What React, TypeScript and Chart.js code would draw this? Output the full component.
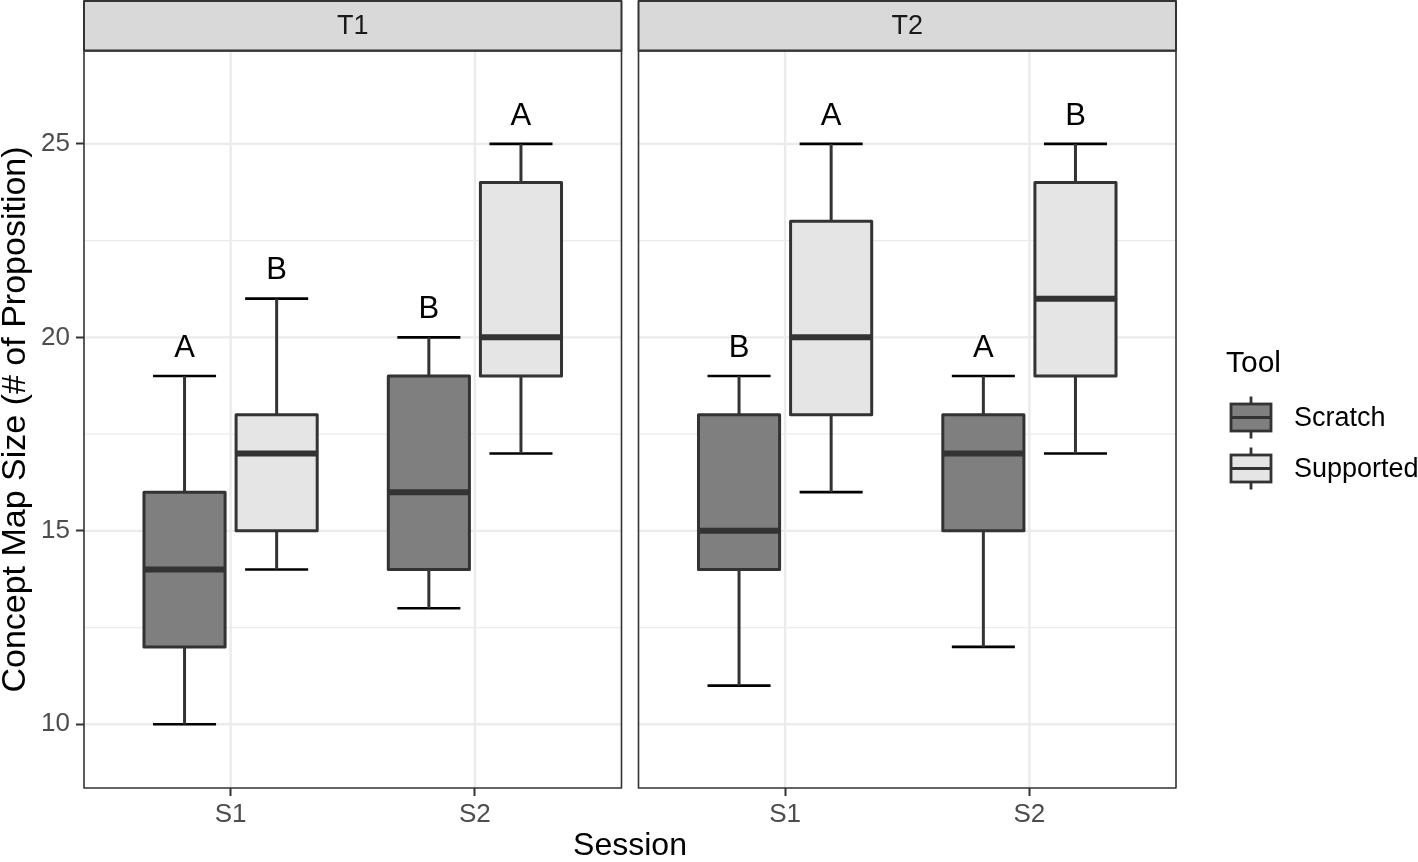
import React, { useEffect, useRef } from 'react';
import { Chart, registerables } from 'chart.js';

Chart.register(...registerables);

// ---------- data ----------
const facets = ['T1', 'T2'];
const sessions = ['S1', 'S2'];
const tools = ['Scratch', 'Supported'];

// order of values: T1-S1, T1-S2, T2-S1, T2-S2
const scratchLow = [10, 13, 11, 12];
const scratchQ1 = [12, 14, 14, 15];
const scratchMedian = [14, 16, 15, 17];
const scratchQ3 = [16, 19, 18, 18];
const scratchHigh = [19, 20, 19, 19];
const scratchLetters = ['A', 'B', 'B', 'A'];

const supportedLow = [14, 17, 16, 17];
const supportedQ1 = [15, 19, 18, 19];
const supportedMedian = [17, 20, 20, 21];
const supportedQ3 = [18, 24, 23, 24];
const supportedHigh = [21, 25, 25, 25];
const supportedLetters = ['B', 'A', 'A', 'B'];

const yTicks = [10, 15, 20, 25];
const yMinorTicks = [12.5, 17.5, 22.5];

// ---------- styling / layout ----------
const FONT = "'Liberation Sans', Arial, Helvetica, sans-serif";
const toolFills = ['#7F7F7F', '#E5E5E5'];
const LINE = '#333333';
const GRID = '#EBEBEB';

const Y_MIN = 8.354;
const Y_MAX = 27.4;
const X_MIN = 0.4;
const PANEL_SPAN = 2.2;
const PANEL_GAP = 0.0696;
const PANEL_OFFSET = PANEL_SPAN + PANEL_GAP;
const X_MAX = X_MIN + PANEL_SPAN * 2 + PANEL_GAP;
const DODGE = 0.1885;
const BOX_W = 0.332;
const CAP_W = 0.258;
const LABEL_LIFT = 0.72;

const toolStats = [
  { low: scratchLow, q1: scratchQ1, med: scratchMedian, q3: scratchQ3, high: scratchHigh, letters: scratchLetters },
  { low: supportedLow, q1: supportedQ1, med: supportedMedian, q3: supportedQ3, high: supportedHigh, letters: supportedLetters },
];

function centerFor(facet: number, session: number, tool: number) {
  return facet * PANEL_OFFSET + (session + 1) + (tool === 0 ? -DODGE : DODGE);
}

function hLine(ctx: CanvasRenderingContext2D, x1: number, x2: number, y: number) {
  ctx.beginPath();
  ctx.moveTo(x1, y);
  ctx.lineTo(x2, y);
  ctx.stroke();
}
function vLine(ctx: CanvasRenderingContext2D, x: number, y1: number, y2: number) {
  ctx.beginPath();
  ctx.moveTo(x, y1);
  ctx.lineTo(x, y2);
  ctx.stroke();
}

const facetPlugin = {
  id: 'facetBoxes',
  beforeDatasetsDraw(chart: any) {
    const { ctx, chartArea, scales } = chart;
    const x = scales.x;
    const y = scales.y;
    const top = chartArea.top;
    const bottom = chartArea.bottom;
    ctx.save();
    ctx.lineCap = 'butt';
    facets.forEach((facet, f) => {
      const off = f * PANEL_OFFSET;
      const left = x.getPixelForValue(X_MIN + off);
      const right = x.getPixelForValue(X_MIN + PANEL_SPAN + off);
      ctx.fillStyle = '#FFFFFF';
      ctx.fillRect(left, top, right - left, bottom - top);
      // grid
      ctx.strokeStyle = GRID;
      ctx.lineWidth = 1.2;
      yMinorTicks.forEach((v) => hLine(ctx, left, right, y.getPixelForValue(v)));
      ctx.lineWidth = 2.4;
      yTicks.forEach((v) => hLine(ctx, left, right, y.getPixelForValue(v)));
      sessions.forEach((_, s) => vLine(ctx, x.getPixelForValue(off + s + 1), top, bottom));

      // boxes
      sessions.forEach((_, s) => {
        const idx = f * sessions.length + s;
        tools.forEach((_, t) => {
          const st = toolStats[t];
          const c = centerFor(f, s, t);
          const cx = x.getPixelForValue(c);
          const bl = x.getPixelForValue(c - BOX_W / 2);
          const br = x.getPixelForValue(c + BOX_W / 2);
          const cl = x.getPixelForValue(c - CAP_W / 2);
          const cr = x.getPixelForValue(c + CAP_W / 2);
          const pLow = y.getPixelForValue(st.low[idx]);
          const pQ1 = y.getPixelForValue(st.q1[idx]);
          const pMed = y.getPixelForValue(st.med[idx]);
          const pQ3 = y.getPixelForValue(st.q3[idx]);
          const pHigh = y.getPixelForValue(st.high[idx]);
          // error bar caps
          ctx.strokeStyle = '#000000';
          ctx.lineWidth = 2.6;
          hLine(ctx, cl, cr, pLow);
          hLine(ctx, cl, cr, pHigh);
          // whiskers
          ctx.strokeStyle = LINE;
          ctx.lineWidth = 3;
          vLine(ctx, cx, pLow, pQ1);
          vLine(ctx, cx, pQ3, pHigh);
          // box
          ctx.fillStyle = toolFills[t];
          ctx.fillRect(bl, pQ3, br - bl, pQ1 - pQ3);
          ctx.lineJoin = 'round';
          ctx.strokeRect(bl, pQ3, br - bl, pQ1 - pQ3);
          // median
          ctx.lineWidth = 6;
          hLine(ctx, bl, br, pMed);
          // letter
          ctx.fillStyle = '#000000';
          ctx.font = `31px ${FONT}`;
          ctx.textAlign = 'center';
          ctx.textBaseline = 'middle';
          ctx.fillText(st.letters[idx], cx, y.getPixelForValue(st.high[idx] + LABEL_LIFT));
        });
      });

      // panel border
      ctx.strokeStyle = LINE;
      ctx.lineWidth = 1.6;
      ctx.strokeRect(left, top, right - left, bottom - top);
      // strip
      ctx.fillStyle = '#D9D9D9';
      ctx.fillRect(left, 1, right - left, top - 1);
      ctx.lineWidth = 2;
      ctx.strokeRect(left, 1, right - left, top - 1.5);
      ctx.fillStyle = '#1A1A1A';
      ctx.font = `27px ${FONT}`;
      ctx.textAlign = 'center';
      ctx.textBaseline = 'middle';
      ctx.fillText(facet, (left + right) / 2, top / 2 + 1);
    });
    ctx.restore();
  },
  afterDraw(chart: any) {
    const { ctx } = chart;
    ctx.save();
    ctx.fillStyle = '#000000';
    ctx.font = `30px ${FONT}`;
    ctx.textAlign = 'left';
    ctx.textBaseline = 'alphabetic';
    ctx.fillText('Tool', 1226, 372);
    tools.forEach((tool, t) => {
      const cy = 417.5 + t * 51;
      const cx = 1251;
      ctx.strokeStyle = LINE;
      ctx.lineWidth = 2.8;
      vLine(ctx, cx, cy - 21, cy + 21);
      ctx.fillStyle = toolFills[t];
      ctx.fillRect(cx - 20, cy - 13.5, 40, 27);
      ctx.strokeRect(cx - 20, cy - 13.5, 40, 27);
      ctx.lineWidth = 3;
      hLine(ctx, cx - 20, cx + 20, cy);
      ctx.fillStyle = '#000000';
      ctx.font = `27px ${FONT}`;
      ctx.textBaseline = 'middle';
      ctx.fillText(tool, 1294, cy + 1);
    });
    ctx.restore();
  },
};

export default function App() {
  const canvasRef = useRef<HTMLCanvasElement | null>(null);

  useEffect(() => {
    document.body.style.margin = '0';
    const canvas = canvasRef.current;
    if (!canvas) return;

    const datasets = tools.map((tool, t) => {
      const pts: { x: number; y: number }[] = [];
      facets.forEach((_, f) =>
        sessions.forEach((_, s) => {
          pts.push({ x: centerFor(f, s, t), y: toolStats[t].med[f * sessions.length + s] });
        })
      );
      return { label: tool, data: pts, pointRadius: 0, showLine: false, backgroundColor: toolFills[t] };
    });

    const chart = new Chart(canvas, {
      type: 'scatter',
      data: { datasets },
      plugins: [facetPlugin],
      options: {
        animation: false,
        responsive: false,
        events: [],
        layout: { padding: { left: 0, right: 242, top: 51, bottom: 0 } },
        plugins: { legend: { display: false }, tooltip: { enabled: false }, title: { display: false } },
        scales: {
          x: {
            type: 'linear',
            min: X_MIN,
            max: X_MAX,
            afterBuildTicks: (scale: any) => {
              const ticks: { value: number }[] = [];
              facets.forEach((_, f) => sessions.forEach((_, s) => ticks.push({ value: f * PANEL_OFFSET + s + 1 })));
              scale.ticks = ticks;
            },
            afterFit: (scale: any) => {
              scale.height = 74;
            },
            ticks: {
              autoSkip: false,
              maxRotation: 0,
              padding: 3,
              color: '#4D4D4D',
              font: { family: FONT, size: 26 },
              callback: (_v: any, i: number) => sessions[i % sessions.length],
            },
            grid: { drawOnChartArea: false, drawTicks: true, tickLength: 8, tickColor: LINE, tickWidth: 2 },
            border: { display: false },
            title: { display: true, text: 'Session', color: '#000000', font: { family: FONT, size: 32, lineHeight: 1 }, padding: { top: -2, bottom: 0 } },
          },
          y: {
            type: 'linear',
            min: Y_MIN,
            max: Y_MAX,
            afterBuildTicks: (scale: any) => {
              scale.ticks = yTicks.map((v) => ({ value: v }));
            },
            afterFit: (scale: any) => {
              scale.width = 84;
            },
            ticks: {
              padding: 6,
              color: '#4D4D4D',
              font: { family: FONT, size: 26 },
              callback: (v: any) => String(v),
            },
            grid: { drawOnChartArea: false, drawTicks: true, tickLength: 8, tickColor: LINE, tickWidth: 2 },
            border: { display: false },
            title: {
              display: true,
              text: 'Concept Map Size (# of Proposition)',
              color: '#000000',
              font: { family: FONT, size: 34, lineHeight: 1 },
              padding: { top: -1, bottom: 0 },
            },
          },
        },
      },
    } as any);

    return () => {
      chart.destroy();
    };
  }, []);

  return (
    <div style={{ width: 1418, height: 862, position: 'relative' }}>
      <canvas ref={canvasRef} width={1418} height={862} style={{ display: 'block' }} />
    </div>
  );
}
